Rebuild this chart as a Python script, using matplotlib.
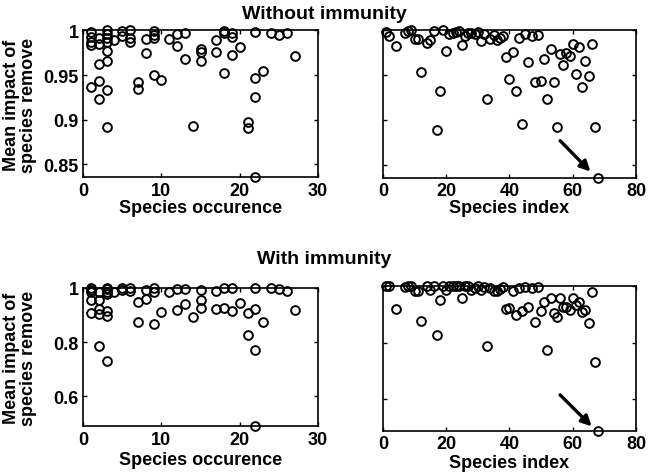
import matplotlib
matplotlib.use("Agg")
import matplotlib.pyplot as plt

# --- data ---
# top row: without immunity
occ_top = [1, 1, 1, 1, 1, 2, 2, 2, 2, 2, 3, 3, 3, 3, 3, 3, 3, 3, 4, 5, 5, 6, 6, 6,
           7, 7, 8, 8, 9, 9, 9, 9, 10, 11, 12, 12, 13, 13, 14, 15, 15, 15, 17, 17,
           18, 18, 18, 19, 19, 19, 20, 21, 21, 22, 22, 22, 22, 23, 24, 25, 26, 27]
imp_top_occ = [0.998, 0.993, 0.987, 0.984, 0.937, 0.992, 0.985, 0.963, 0.943, 0.923,
               1.0, 0.996, 0.992, 0.987, 0.977, 0.966, 0.933, 0.892, 0.989, 0.999, 0.994,
               1.0, 0.992, 0.987, 0.942, 0.934, 0.990, 0.975, 0.999, 0.995, 0.992, 0.950,
               0.945, 0.991, 0.996, 0.983, 0.997, 0.968, 0.893, 0.979, 0.976, 0.966,
               0.989, 0.976, 0.999, 0.997, 0.952, 0.997, 0.993, 0.972, 0.982, 0.898, 0.891,
               0.998, 0.947, 0.925, 0.8355, 0.955, 0.997, 0.995, 0.997, 0.971]

idx_top = [1, 2, 4, 7, 8, 9, 10, 11, 12] + list(range(14, 69))
imp_top_idx = [0.998, 0.994, 0.983, 0.997, 0.999, 1.0, 0.991, 0.991, 0.954, 0.986,
               0.989, 0.999, 0.889, 0.933, 1.0, 0.977, 0.996, 0.997, 0.998, 0.999,
               0.984, 0.994, 0.997, 0.997, 0.996, 0.998, 0.988, 0.996, 0.923, 0.990,
               0.995, 0.989, 0.992, 0.994, 0.970, 0.946, 0.976, 0.933, 0.992, 0.896,
               0.996, 0.965, 0.994, 0.942, 0.995, 0.944, 0.968, 0.923, 0.979, 0.942,
               0.892, 0.974, 0.962, 0.975, 0.972, 0.985, 0.951, 0.982, 0.937, 0.966,
               0.949, 0.985, 0.892, 0.8355]

# bottom row: with immunity
occ_bot = [1, 1, 1, 1, 1, 2, 2, 2, 2, 2, 3, 3, 3, 3, 3, 3, 3, 4, 5, 5, 6, 6, 7, 7,
           8, 8, 9, 9, 9, 10, 11, 12, 12, 13, 13, 14, 15, 15, 15, 17, 17, 18, 18,
           19, 19, 20, 21, 21, 22, 22, 22, 22, 23, 24, 25, 26, 27]
imp_bot_occ = [1.0, 0.991, 0.982, 0.955, 0.905, 0.982, 0.955, 0.923, 0.902, 0.786,
               1.0, 0.994, 0.982, 0.976, 0.914, 0.896, 0.731, 0.985, 0.998, 0.99,
               1.0, 0.988, 0.947, 0.874, 0.991, 0.957, 0.998, 0.985, 0.868, 0.912,
               0.982, 0.994, 0.918, 0.994, 0.939, 0.892, 0.99, 0.955, 0.924, 0.988,
               0.921, 1.0, 0.925, 0.998, 0.914, 0.943, 0.908, 0.826, 1.0, 0.923,
               0.771, 0.49, 0.875, 1.0, 0.994, 0.988, 0.918]

idx_bot = [1, 2, 4, 7, 8, 9, 10, 11, 12] + list(range(14, 69))
imp_bot_idx = [1.0, 1.0, 0.918, 0.994, 1.0, 1.0, 0.982, 0.982, 0.875, 1.0,
               0.986, 1.0, 0.827, 0.95, 1.0, 0.986, 1.0, 1.0, 1.0, 1.0,
               0.957, 1.0, 1.0, 0.986, 0.991, 1.0, 0.986, 0.995, 0.789, 0.991,
               0.98, 0.982, 0.988, 0.994, 0.918, 0.921, 0.98, 0.898, 0.991, 0.91,
               0.994, 0.926, 0.991, 0.873, 0.994, 0.91, 0.941, 0.775, 0.957, 0.903,
               0.889, 0.957, 0.924, 0.924, 0.916, 0.957, 0.933, 0.941, 0.906, 0.916,
               0.868, 0.979, 0.733, 0.49]

plt.rcParams["font.family"] = ["Liberation Sans", "DejaVu Sans"]
plt.rcParams["font.weight"] = "bold"
plt.rcParams["axes.labelweight"] = "bold"
plt.rcParams["font.size"] = 13


def style(ax, xlim, xticks, ylim, yticks, ylabels):
    ax.set_xlim(*xlim)
    ax.set_ylim(*ylim)
    ax.set_xticks(xticks)
    ax.set_yticks(yticks)
    if ylabels is None:
        ax.set_yticklabels([])
    else:
        ax.set_yticklabels(ylabels)
    ax.tick_params(direction="in", length=3, width=1, top=True, right=True, pad=3)
    for s in ax.spines.values():
        s.set_linewidth(1.2)


def scatter(ax, x, y):
    ax.plot(x, y, "o", mfc="none", mec="k", ms=6.3, mew=1.4, clip_on=False)


def add_ylabel(ax):
    ax.set_ylabel("Mean impact of\nspecies remove", linespacing=1.0)
    ax.yaxis.set_label_coords(-0.195, 0.5)


arrow = dict(arrowstyle="-|>", color="k", lw=2.4, mutation_scale=15,
             shrinkA=0, shrinkB=0)

fig = plt.figure(figsize=(6.49, 4.77), dpi=100)
ax1 = fig.add_axes([0.128, 0.626, 0.362, 0.308])
ax2 = fig.add_axes([0.590, 0.625, 0.390, 0.309])
ax3 = fig.add_axes([0.128, 0.104, 0.362, 0.291])
ax4 = fig.add_axes([0.590, 0.095, 0.390, 0.304])

scatter(ax1, occ_top, imp_top_occ)
style(ax1, (0, 30), [0, 10, 20, 30], (0.8355, 1), [0.85, 0.9, 0.95, 1],
      ["0.85", "0.9", "0.95", "1"])
ax1.set_xlabel("Species occurence", labelpad=0)
add_ylabel(ax1)

scatter(ax2, idx_top, imp_top_idx)
style(ax2, (0, 80), [0, 20, 40, 60, 80], (0.8355, 1), [0.85, 0.9, 0.95, 1], None)
ax2.set_xlabel("Species index", labelpad=0)
ax2.annotate("", xy=(65.6, 0.8425), xytext=(56, 0.877), arrowprops=arrow)

scatter(ax3, occ_bot, imp_bot_occ)
style(ax3, (0, 30), [0, 10, 20, 30], (0.49, 1), [0.6, 0.8, 1], ["0.6", "0.8", "1"])
ax3.set_xlabel("Species occurence", labelpad=2.5)
add_ylabel(ax3)

scatter(ax4, idx_bot, imp_bot_idx)
style(ax4, (0, 80), [0, 20, 40, 60, 80], (0.49, 1), [0.6, 0.8, 1], None)
ax4.set_xlabel("Species index", labelpad=1.5)
ax4.annotate("", xy=(66, 0.505), xytext=(56, 0.616), arrowprops=arrow)

fig.text(0.5, 0.97, "Without immunity", ha="center", va="center", fontsize=14, fontweight="bold")
fig.text(0.5, 0.455, "With immunity", ha="center", va="center", fontsize=14, fontweight="bold")

fig.savefig("out.png", dpi=100)
